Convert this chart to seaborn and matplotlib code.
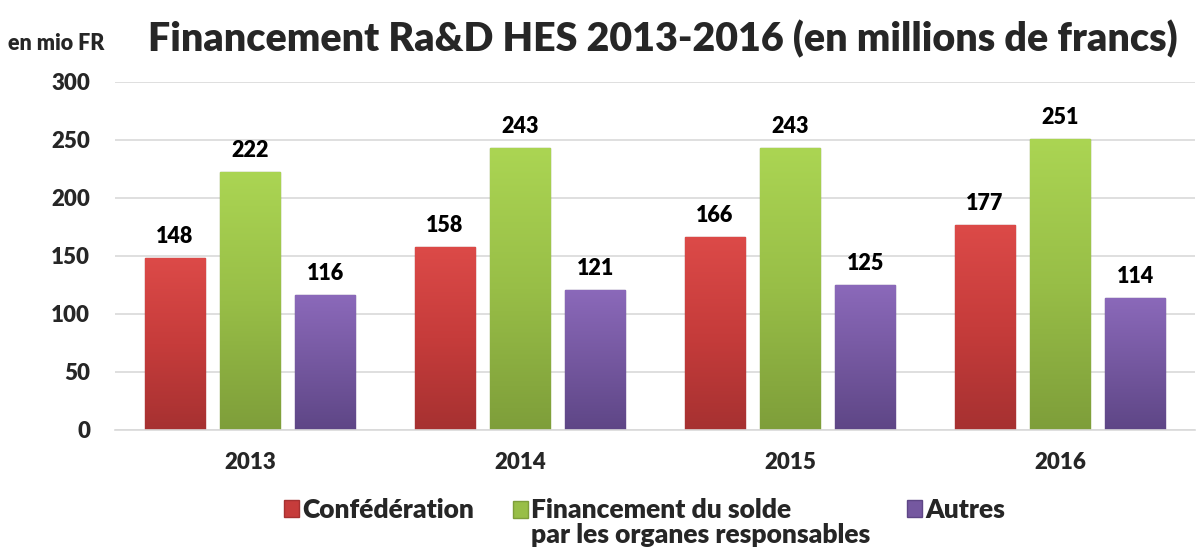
import numpy as np
import pandas as pd
import matplotlib
matplotlib.use("Agg")
import matplotlib.pyplot as plt
import seaborn as sns
from matplotlib.colors import LinearSegmentedColormap
from matplotlib.patches import Patch, Rectangle
from matplotlib.legend_handler import HandlerPatch

years = ["2013", "2014", "2015", "2016"]
series = ["Confédération", "Financement du solde\npar les organes responsables", "Autres"]
confederation = [148, 158, 166, 177]
financement_solde = [222, 243, 243, 251]
autres = [116, 121, 125, 114]
yticks = [0, 50, 100, 150, 200, 250, 300]

title = "Financement Ra&D HES 2013-2016 (en millions de francs)"
unit_label = "en mio FR"

colors_top = ["#DC4A48", "#ABD553", "#8B69BA"]
colors_bot = ["#A63131", "#7E9E3A", "#5E4686"]
colors_mid = ["#C63C3B", "#98BE47", "#7558A0"]

WEIGHT = "heavy"

df = pd.DataFrame({
    "year": years * 3,
    "series": [series[0]] * 4 + [series[1]] * 4 + [series[2]] * 4,
    "value": confederation + financement_solde + autres,
})

sns.set_theme(style="white")
plt.rcParams["font.family"] = ["Lato", "DejaVu Sans"]
plt.rcParams["font.weight"] = WEIGHT

fig = plt.figure(figsize=(12, 5.52), dpi=100)
ax = fig.add_axes([115 / 1200, 1 - 430 / 552, 1080 / 1200, 348 / 552])

sns.barplot(data=df, x="year", y="value", hue="series", order=years, hue_order=series,
            palette=colors_mid, width=0.835, gap=0.2, ax=ax, legend=False, saturation=1)

ax.set_ylim(0, 300)
ax.set_xlim(-0.5, 3.5)
ax.set_yticks(yticks)
ax.set_yticklabels([str(t) for t in yticks], fontsize=16, fontweight=WEIGHT)
ax.tick_params(axis="y", length=0, pad=18)
ax.tick_params(axis="x", length=0, pad=16, labelsize=16)
for lab in ax.get_xticklabels():
    lab.set_fontweight(WEIGHT)
ax.set_xlabel("")
ax.set_ylabel("")
ax.yaxis.grid(True, color="#D9D9D9", linewidth=1.2)
ax.set_axisbelow(True)
for s in ["top", "right", "left"]:
    ax.spines[s].set_visible(False)
ax.spines["bottom"].set_color("#D9D9D9")
ax.spines["bottom"].set_linewidth(1.2)

# gradient fill clipped to each bar
for ci, cont in enumerate(ax.containers):
    cmap = LinearSegmentedColormap.from_list("g", [colors_bot[ci], colors_mid[ci], colors_top[ci]])
    grad = np.linspace(0, 1, 256).reshape(-1, 1)
    for p in cont.patches:
        x0, y0 = p.get_x(), p.get_y()
        w, h = p.get_width(), p.get_height()
        im = ax.imshow(grad, extent=[x0, x0 + w, y0, y0 + h], origin="lower", cmap=cmap,
                       aspect="auto", zorder=p.get_zorder() + 0.1, interpolation="bicubic")
        im.set_clip_path(p)
        p.set_edgecolor(colors_bot[ci])
        p.set_linewidth(1.0)
    ax.bar_label(cont, fmt="%d", padding=8, fontsize=15.5, fontweight=WEIGHT, color="black")

ax.set_xlim(-0.5, 3.5)
ax.set_ylim(0, 300)

fig.text(148 / 1200, 1 - 39 / 552, title, fontsize=28.4, fontweight=WEIGHT, va="center", ha="left")
fig.text(8 / 1200, 1 - 43 / 552, unit_label, fontsize=15.5, fontweight=WEIGHT, va="center", ha="left")


class TopHandler(HandlerPatch):
    def __init__(self, shift, **kw):
        super().__init__(**kw)
        self.shift = shift

    def create_artists(self, legend, orig_handle, xdescent, ydescent, width, height, fontsize, trans):
        r = Rectangle((-xdescent, -ydescent + self.shift), width, height,
                      facecolor=orig_handle.get_facecolor(), edgecolor=orig_handle.get_edgecolor(),
                      linewidth=1.0, transform=trans)
        return [r]


leg_fs = 19
leg_x = [284, 513, 907]
for i in range(3):
    h = Patch(facecolor=colors_mid[i], edgecolor=colors_bot[i])
    nlines = series[i].count("\n")
    shift = nlines * leg_fs * 1.05 / 2
    leg = fig.legend([h], [series[i]], loc="upper left",
                     bbox_to_anchor=(leg_x[i] / 1200, 1 - 498 / 552),
                     frameon=False, prop={"weight": WEIGHT, "size": leg_fs},
                     handlelength=0.55, handleheight=0.6, handletextpad=0.15,
                     borderpad=0, borderaxespad=0,
                     handler_map={Patch: TopHandler(shift)})
    for t in leg.get_texts():
        t.set_linespacing(1.05)

fig.savefig("out.png", dpi=100)
